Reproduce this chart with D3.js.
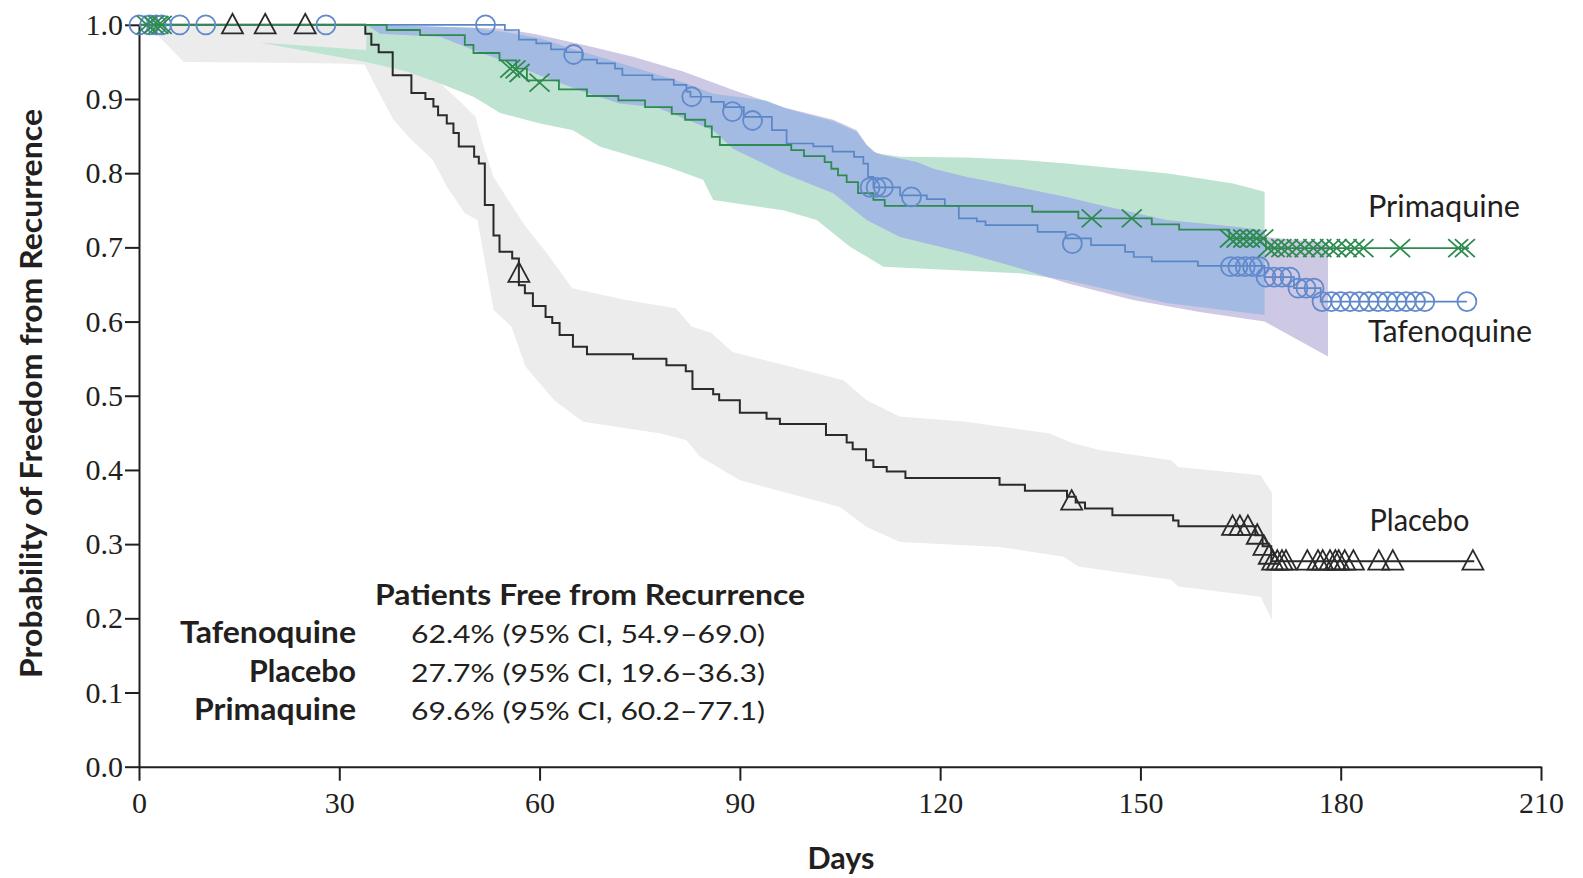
<!DOCTYPE html>
<html>
<head>
<meta charset="utf-8">
<script src="https://cdn.jsdelivr.net/npm/d3@7"></script>
<style>
	body { margin: 0; background: #fff; }
	svg text { fill: #231f20; }
</style>
</head>
<body>
<svg id="chart" width="1583" height="878"></svg>
<script>
// ticks
const xTicks = [0, 30, 60, 90, 120, 150, 180, 210];
const yTicks = [0, 0.1, 0.2, 0.3, 0.4, 0.5, 0.6, 0.7, 0.8, 0.9, 1.0];

// Kaplan-Meier steps [day, probability after the step]
const placeboSteps = [[0,1],[33.9,0.988],[34.8,0.973],[35.9,0.963],[38.0,0.932],[40.8,0.908],[42.9,0.900],[44.1,0.890],[44.8,0.878],[46.1,0.867],[47.1,0.854],[47.9,0.836],[50.2,0.822],[50.9,0.813],[51.8,0.757],[53.1,0.716],[54.0,0.694],[55.9,0.685],[56.9,0.649],[57.8,0.638],[59.0,0.621],[60.9,0.606],[61.9,0.598],[63.0,0.582],[65.0,0.566],[67.1,0.556],[74.0,0.550],[79.0,0.541],[81.9,0.533],[82.9,0.509],[86.0,0.502],[86.9,0.494],[90.0,0.477],[94.0,0.469],[96.0,0.462],[102.9,0.447],[106.0,0.437],[106.9,0.428],[108.9,0.413],[110.0,0.404],[112.0,0.398],[114.8,0.389],[128.9,0.380],[132.7,0.372],[139.0,0.364],[140.3,0.356],[141.7,0.348],[145.8,0.339],[154.9,0.332],[155.7,0.324],[167.2,0.312],[168.3,0.297],[169.6,0.277],[200.0,0.277]];
const tafSteps = [[0,1],[54.8,0.993],[56.9,0.980],[59.5,0.975],[61.7,0.967],[64.0,0.963],[66.4,0.953],[68.6,0.948],[71.3,0.941],[72.4,0.932],[76.9,0.926],[80.1,0.919],[82.0,0.910],[82.6,0.903],[85.7,0.896],[87.6,0.889],[90.6,0.876],[94.8,0.858],[97.0,0.840],[101.0,0.836],[103.9,0.829],[107.1,0.822],[108.5,0.813],[109.2,0.795],[110.0,0.781],[114.0,0.770],[118.0,0.765],[120.7,0.756],[122.8,0.739],[125.5,0.735],[126.8,0.730],[134.6,0.721],[138.8,0.712],[142.6,0.703],[147.7,0.694],[149.0,0.687],[151.7,0.681],[158.6,0.675],[168.6,0.660],[173.0,0.645],[177.0,0.627],[198.9,0.627]];
const primSteps = [[0,1],[37.1,0.993],[42.1,0.986],[48.8,0.973],[50.1,0.962],[54.0,0.952],[56.5,0.941],[58.1,0.925],[62.9,0.913],[67.1,0.904],[71.8,0.898],[75.8,0.889],[79.8,0.880],[81.8,0.872],[84.8,0.863],[85.8,0.849],[87.0,0.838],[97.7,0.831],[99.6,0.823],[102.7,0.815],[103.7,0.806],[104.7,0.797],[106.0,0.788],[107.7,0.773],[110.0,0.764],[111.7,0.756],[133.8,0.748],[140.7,0.739],[151.7,0.731],[155.8,0.724],[163.3,0.712],[168.8,0.699],[199.2,0.699]];

// censored patients [day, probability]
const placeboCensor = [[14.0,1],[18.9,1],[24.9,1],[56.9,0.665],[139.7,0.358],[163.8,0.324],[164.9,0.324],[166.1,0.324],[167.5,0.312],[168.5,0.297],[169.3,0.285],[169.8,0.277],[170.5,0.277],[171.2,0.277],[171.8,0.277],[175.0,0.277],[176.6,0.277],[177.3,0.277],[178.4,0.277],[179.2,0.277],[179.7,0.277],[180.6,0.277],[181.9,0.277],[185.7,0.277],[187.8,0.277],[199.8,0.277]];
const tafCensor = [[0,1],[1.6,1],[2.6,1],[3.4,1],[6.1,1],[10.0,1],[28.0,1],[51.9,1],[65.1,0.960],[82.8,0.903],[88.9,0.883],[91.9,0.871],[109.5,0.781],[110.4,0.781],[111.5,0.781],[115.7,0.768],[139.8,0.705],[163.5,0.674],[164.6,0.674],[165.7,0.674],[166.8,0.674],[167.8,0.674],[168.8,0.660],[170.0,0.660],[171.2,0.660],[172.4,0.660],[173.6,0.645],[174.8,0.645],[176.0,0.645],[177.2,0.627],[178.6,0.627],[180.0,0.627],[181.4,0.627],[182.8,0.627],[184.2,0.627],[185.6,0.627],[187.0,0.627],[188.4,0.627],[189.8,0.627],[191.2,0.627],[192.6,0.627],[198.9,0.627]];
const primCensor = [[1.2,1],[2.2,1],[2.9,1],[3.4,1],[55.6,0.941],[56.4,0.940],[57.0,0.935],[60.0,0.922],[142.7,0.739],[148.7,0.739],[163.4,0.712],[164.4,0.712],[165.4,0.712],[166.4,0.712],[167.4,0.712],[168.4,0.712],[169.1,0.699],[170.1,0.699],[171.1,0.699],[172.1,0.699],[173.4,0.699],[174.6,0.699],[175.9,0.699],[177.1,0.699],[178.4,0.699],[179.4,0.699],[180.9,0.699],[182.1,0.699],[183.4,0.699],[188.9,0.699],[197.6,0.699],[198.6,0.699]];

// 95% confidence bands [day, bound]
const placeboUpper = [[0,1],[34,1],[36,0.985],[40,0.958],[43.8,0.932],[47.8,0.899],[50.4,0.876],[51.5,0.840],[53.1,0.795],[55.3,0.764],[57.9,0.728],[61.1,0.692],[64.9,0.645],[72.9,0.629],[80.4,0.618],[82.8,0.593],[85.7,0.585],[88.9,0.559],[95.5,0.544],[105.5,0.521],[109,0.494],[113.9,0.472],[123.9,0.465],[136.4,0.449],[139.9,0.436],[143.9,0.427],[154.6,0.413],[155.7,0.404],[168,0.393],[169.7,0.369]];
const placeboLower = [[0,1],[1.6,0.997],[6.7,0.950],[30.1,0.948],[33.8,0.946],[35.5,0.916],[38.1,0.872],[40.8,0.845],[44.0,0.818],[46.1,0.782],[48.8,0.746],[50.7,0.737],[53.1,0.616],[55.8,0.593],[57.9,0.539],[62.2,0.494],[66.5,0.465],[78.2,0.449],[82,0.440],[84,0.418],[90,0.386],[105,0.350],[109,0.323],[114,0.303],[129,0.296],[138.5,0.283],[140.7,0.270],[154.6,0.252],[155.7,0.243],[168,0.229],[169.7,0.198]];
const tafUpper = [[34.1,1],[54.1,0.995],[59.1,0.988],[66.5,0.973],[74,0.957],[81.5,0.937],[89,0.912],[96.5,0.889],[104,0.872],[107.5,0.858],[109,0.838],[110,0.829],[111.5,0.824],[116.5,0.815],[119,0.806],[124,0.795],[129,0.786],[138.9,0.768],[143.9,0.757],[153.9,0.737],[163.9,0.728],[168.6,0.723],[168.7,0.714],[178.1,0.706]];
const tafLower = [[34.1,1],[36.1,0.988],[45.1,0.984],[50.1,0.966],[55.1,0.950],[60,0.932],[66.5,0.910],[72,0.894],[77.5,0.889],[86,0.858],[89,0.833],[96.5,0.800],[104,0.773],[109,0.737],[114,0.714],[124,0.692],[131.9,0.672],[138.9,0.652],[148.9,0.629],[158.9,0.613],[168.6,0.600],[178.1,0.553]];
const primUpper = [[18.1,0.976],[34.0,0.966],[34.1,1],[50,0.996],[55,0.990],[60,0.982],[64.1,0.970],[74,0.943],[82,0.921],[86,0.907],[94,0.898],[97,0.887],[104,0.870],[107.5,0.856],[109,0.838],[110.5,0.827],[114,0.822],[124,0.821],[131.9,0.818],[138.9,0.813],[153.9,0.800],[163.9,0.786],[168.6,0.775]];
const primLower = [[18.1,0.976],[34.0,0.950],[40.1,0.937],[45.1,0.921],[50.1,0.903],[54.1,0.881],[60.1,0.867],[65,0.858],[69,0.836],[79,0.809],[84.5,0.791],[86,0.764],[96.5,0.750],[101.5,0.737],[106.5,0.701],[111.5,0.674],[131.9,0.665],[138.9,0.656],[153.9,0.625],[168.6,0.609]];

const groupNames = ['Tafenoquine', 'Placebo', 'Primaquine'];
const freeValues = ['62.4% (95% CI, 54.9\u201369.0)', '27.7% (95% CI, 19.6\u201336.3)', '69.6% (95% CI, 60.2\u201377.1)'];

const SANS = 'Lato, "Open Sans", sans-serif';

class SurvivalChart {
	constructor(container) {
		this.svg = d3.select('#' + container);
		this.x = d3.scaleLinear().domain([0, 210]).range([139, 1541]);
		this.y = d3.scaleLinear().domain([0, 1]).range([766.7, 24.8]);
		this.draw();
	}

	bandPath(upper, lower) {
		const pts = upper.concat(lower.slice().reverse());
		return d3.line().x(d => this.x(d[0])).y(d => this.y(d[1]))(pts) + 'Z';
	}

	stepLine(data, color, width) {
		this.svg.append('path')
			.attr('d', d3.line().curve(d3.curveStepAfter).x(d => this.x(d[0])).y(d => this.y(d[1]))(data))
			.style('fill', 'none')
			.style('stroke', color)
			.style('stroke-width', width);
	}

	marks(data, shape, color) {
		this.svg.append('g').selectAll('path')
			.data(data)
			.enter()
			.append('path')
			.attr('transform', d => `translate(${this.x(d[0])},${this.y(d[1])})`)
			.attr('d', shape)
			.style('fill', 'none')
			.style('stroke', color)
			.style('stroke-width', 1.8);
	}

	draw() {
		const svg = this.svg;

		// confidence bands: blue is where tafenoquine and primaquine overlap
		svg.append('clipPath').attr('id', 'primClip')
			.append('path').attr('d', this.bandPath(primUpper, primLower));
		svg.append('path').attr('d', this.bandPath(placeboUpper, placeboLower)).style('fill', '#ececec');
		svg.append('path').attr('d', this.bandPath(primUpper, primLower)).style('fill', '#bfe3d1');
		svg.append('path').attr('d', this.bandPath(tafUpper, tafLower)).style('fill', '#cdc8e4');
		svg.append('path').attr('d', this.bandPath(tafUpper, tafLower))
			.attr('clip-path', 'url(#primClip)')
			.style('fill', '#a3bbe2');

		// axes
		const yAxis = svg.append('g')
			.attr('transform', 'translate(139,0)')
			.call(d3.axisLeft(this.y).tickValues(yTicks).tickSize(14).tickSizeOuter(0).tickPadding(2).tickFormat(d3.format('.1f')));
		const xAxis = svg.append('g')
			.attr('transform', 'translate(0,766.7)')
			.call(d3.axisBottom(this.x).tickValues(xTicks).tickSize(14).tickSizeOuter(0).tickPadding(11));
		[xAxis, yAxis].forEach(a => {
			a.selectAll('path, line').style('stroke', '#231f20').style('stroke-width', 2);
			a.selectAll('text')
				.style('font-family', '"Liberation Serif", "DejaVu Serif", serif')
				.style('font-size', '30px')
				.style('fill', '#231f20');
		});

		// curves
		this.stepLine(placeboSteps, '#2a2a2a', 2);
		this.stepLine(tafSteps, '#5a86c6', 1.7);
		this.stepLine(primSteps, '#2e8b4f', 1.8);

		const triangle = 'M0,-11L10.5,8.5L-10.5,8.5Z';
		const cross = 'M-10,-9L10,9M-10,9L10,-9';
		const circle = d3.symbol().type(d3.symbolCircle).size(Math.PI * 9.5 * 9.5)();
		this.marks(placeboCensor, triangle, '#2a2a2a');
		this.marks(tafCensor, circle, '#6189cb');
		this.marks(primCensor, cross, '#2e8b4f');

		// texts
		const text = (str, x, y, size, weight, anchor, len) => {
			const t = svg.append('text')
				.attr('x', x).attr('y', y)
				.attr('text-anchor', anchor)
				.style('font-family', SANS)
				.style('font-size', size + 'px')
				.style('font-weight', weight)
				.text(str);
			if (len) t.attr('textLength', len).attr('lengthAdjust', 'spacingAndGlyphs');
			return t;
		};

		text('Probability of Freedom from Recurrence', 0, 0, 31, 700, 'middle', 569)
			.attr('transform', 'translate(42,393.5) rotate(-90)');
		text('Days', 841, 868.5, 30, 700, 'middle', 67);

		text('Primaquine', 1368, 216.7, 30, 400, 'start', 152);
		text('Tafenoquine', 1368, 341.7, 30, 400, 'start', 164);
		text('Placebo', 1369.5, 530.7, 30, 400, 'start', 100);

		text('Patients Free from Recurrence', 375, 605, 28, 700, 'start', 430);
		const rowY = [643, 682, 720];
		const rowLen = [176, 107, 162];
		groupNames.forEach((g, i) => {
			text(g, 356, rowY[i], 30, 700, 'end', rowLen[i]);
			text(freeValues[i], 411, rowY[i], 25, 400, 'start', 354);
		});
	}
}

function whenDocumentLoaded(action) {
	if (document.readyState === "loading") {
		document.addEventListener("DOMContentLoaded", action);
	} else {
		action();
	}
}

whenDocumentLoaded(() => {
	const chart = new SurvivalChart('chart');
});
</script>
</body>
</html>
